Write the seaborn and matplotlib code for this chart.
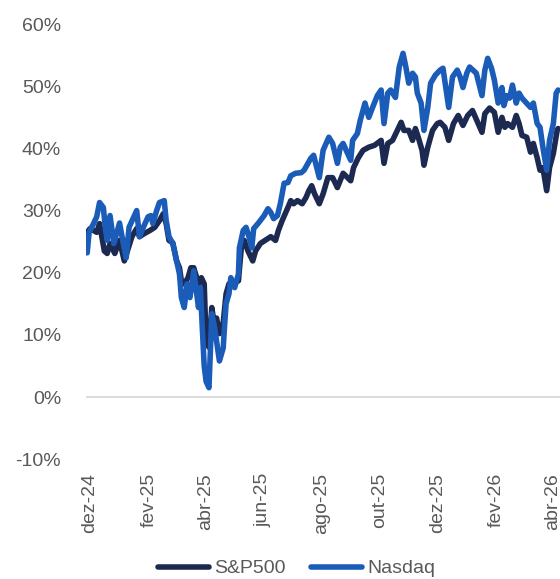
import pandas as pd
import numpy as np
import matplotlib
matplotlib.use("Agg")
import matplotlib.pyplot as plt
import matplotlib.ticker as mticker
import seaborn as sns

# Nasdaq cumulative return (%)
nq_dates = ["2024-11-28", "2024-11-30", "2024-12-05", "2024-12-08", "2024-12-11", "2024-12-15",
            "2024-12-17", "2024-12-19", "2024-12-22", "2024-12-26", "2025-01-01", "2025-01-05",
            "2025-01-08", "2025-01-11", "2025-01-19", "2025-01-22", "2025-01-26", "2025-01-31",
            "2025-02-03", "2025-02-05", "2025-02-09", "2025-02-12", "2025-02-17", "2025-02-19",
            "2025-02-22", "2025-02-26", "2025-03-02", "2025-03-05", "2025-03-07", "2025-03-10",
            "2025-03-13", "2025-03-16", "2025-03-20", "2025-03-25", "2025-03-27", "2025-03-29",
            "2025-03-31", "2025-04-02", "2025-04-05", "2025-04-08", "2025-04-11", "2025-04-13",
            "2025-04-16", "2025-04-20", "2025-04-21", "2025-04-23", "2025-04-26", "2025-04-28",
            "2025-05-02", "2025-05-06", "2025-05-07", "2025-05-11", "2025-05-14", "2025-05-17",
            "2025-05-20", "2025-05-22", "2025-05-27", "2025-06-02", "2025-06-06", "2025-06-09",
            "2025-06-12", "2025-06-16", "2025-06-19", "2025-06-23", "2025-06-27", "2025-06-30",
            "2025-07-05", "2025-07-11", "2025-07-14", "2025-07-18", "2025-07-21", "2025-07-24",
            "2025-07-28", "2025-07-30", "2025-08-03", "2025-08-09", "2025-08-13", "2025-08-18",
            "2025-08-21", "2025-08-24", "2025-09-01", "2025-09-03", "2025-09-08", "2025-09-11",
            "2025-09-16", "2025-09-20", "2025-09-24", "2025-09-29", "2025-10-03", "2025-10-06",
            "2025-10-10", "2025-10-13", "2025-10-18", "2025-10-22", "2025-10-26", "2025-10-29",
            "2025-11-01", "2025-11-05", "2025-11-08", "2025-11-10", "2025-11-14", "2025-11-17",
            "2025-11-21", "2025-11-24", "2025-11-29", "2025-12-04", "2025-12-07", "2025-12-13",
            "2025-12-17", "2025-12-22", "2025-12-25", "2025-12-28", "2026-01-01", "2026-01-04",
            "2026-01-11", "2026-01-17", "2026-01-20", "2026-01-23", "2026-01-27", "2026-01-30",
            "2026-02-03", "2026-02-07", "2026-02-09", "2026-02-12", "2026-02-15", "2026-02-18",
            "2026-02-22", "2026-02-25", "2026-02-28", "2026-03-09", "2026-03-12", "2026-03-16",
            "2026-03-19", "2026-03-22", "2026-03-26", "2026-03-29", "2026-04-02", "2026-04-05",
            "2026-04-07"]
nq_values = [23.2, 26.5, 28.0, 29.0, 31.3, 30.5,
             27.3, 25.2, 29.2, 24.7, 28.0, 24.7,
             22.4, 27.3, 30.0, 25.8, 27.3, 29.0,
             29.2, 27.9, 30.0, 31.3, 31.6, 28.4,
             25.8, 24.7, 21.9, 19.8, 16.0, 14.4,
             18.2, 16.0, 20.3, 14.4, 17.6, 11.1,
             5.0, 2.5, 1.5, 13.4, 11.1, 9.0,
             5.8, 7.9, 10.5, 15.0, 16.6, 19.2,
             17.6, 19.8, 24.0, 26.8, 27.3, 25.8,
             24.0, 27.1, 28.0, 29.2, 30.3, 29.7,
             28.7, 29.2, 31.1, 34.4, 34.5, 35.6,
             36.0, 36.1, 36.5, 37.6, 38.4, 38.9,
             36.5, 35.3, 39.7, 41.8, 40.8, 37.6,
             40.2, 40.8, 38.1, 41.3, 42.4, 44.5,
             47.3, 45.0, 46.6, 48.5, 49.4, 44.0,
             48.9, 49.4, 48.2, 53.1, 55.3, 53.1,
             50.5, 52.1, 51.5, 48.9, 47.3, 42.9,
             46.6, 50.5, 51.8, 52.6, 52.9, 46.6,
             51.5, 52.6, 51.5, 49.8, 52.1, 53.1,
             52.1, 48.5, 52.6, 54.5, 52.9, 51.0,
             47.3, 49.8, 46.9, 48.5, 48.1, 50.2,
             47.3, 48.9, 48.1, 46.6, 47.3, 44.0,
             43.4, 40.2, 36.5, 41.3, 44.0, 48.9,
             49.4]

# S&P500 cumulative return (%)
sp_dates = ["2024-11-28", "2024-12-01", "2024-12-08", "2024-12-11", "2024-12-16", "2024-12-19",
            "2024-12-22", "2024-12-27", "2025-01-01", "2025-01-06", "2025-01-14", "2025-01-19",
            "2025-01-22", "2025-01-27", "2025-02-02", "2025-02-07", "2025-02-12", "2025-02-16",
            "2025-02-19", "2025-02-22", "2025-02-26", "2025-03-02", "2025-03-05", "2025-03-07",
            "2025-03-10", "2025-03-14", "2025-03-17", "2025-03-20", "2025-03-25", "2025-03-28",
            "2025-03-31", "2025-04-02", "2025-04-05", "2025-04-08", "2025-04-10", "2025-04-13",
            "2025-04-16", "2025-04-20", "2025-04-23", "2025-04-26", "2025-04-30", "2025-05-06",
            "2025-05-09", "2025-05-12", "2025-05-16", "2025-05-21", "2025-05-24", "2025-05-29",
            "2025-06-03", "2025-06-09", "2025-06-14", "2025-06-17", "2025-06-21", "2025-06-27",
            "2025-06-30", "2025-07-03", "2025-07-07", "2025-07-12", "2025-07-16", "2025-07-19",
            "2025-07-22", "2025-07-25", "2025-07-30", "2025-08-03", "2025-08-08", "2025-08-13",
            "2025-08-18", "2025-08-24", "2025-09-01", "2025-09-04", "2025-09-09", "2025-09-14",
            "2025-09-20", "2025-09-26", "2025-10-03", "2025-10-06", "2025-10-10", "2025-10-15",
            "2025-10-20", "2025-10-24", "2025-10-27", "2025-11-01", "2025-11-05", "2025-11-08",
            "2025-11-11", "2025-11-15", "2025-11-17", "2025-11-21", "2025-11-26", "2025-12-01",
            "2025-12-04", "2025-12-09", "2025-12-13", "2025-12-18", "2025-12-23", "2025-12-28",
            "2026-01-02", "2026-01-07", "2026-01-17", "2026-01-20", "2026-01-25", "2026-01-30",
            "2026-02-03", "2026-02-07", "2026-02-10", "2026-02-13", "2026-02-18", "2026-02-22",
            "2026-02-25", "2026-02-28", "2026-03-05", "2026-03-09", "2026-03-12", "2026-03-16",
            "2026-03-19", "2026-03-22", "2026-03-26", "2026-03-29", "2026-04-02", "2026-04-06",
            "2026-04-07"]
sp_values = [26.5, 27.1, 26.5, 27.9, 23.5, 23.1,
             24.7, 23.1, 25.2, 21.9, 25.8, 27.1,
             25.8, 26.3, 26.8, 27.3, 28.4, 29.5,
             27.9, 25.2, 24.8, 21.9, 20.8, 18.7,
             18.2, 19.2, 20.8, 20.8, 18.2, 19.2,
             18.2, 9.0, 8.0, 14.4, 12.3, 12.7,
             10.2, 12.0, 16.6, 18.2, 18.2, 18.7,
             24.0, 25.2, 23.5, 21.9, 23.5, 24.7,
             25.2, 25.8, 25.2, 26.8, 28.4, 30.5,
             31.6, 31.1, 31.6, 31.1, 32.1, 33.2,
             34.0, 32.7, 31.1, 32.7, 35.3, 35.3,
             33.7, 36.0, 34.8, 36.9, 38.5, 39.7,
             40.2, 40.5, 41.3, 37.6, 40.8, 41.3,
             42.9, 44.2, 42.9, 42.9, 41.3, 43.2,
             41.8, 39.7, 37.3, 40.2, 42.9, 44.0,
             44.2, 43.4, 41.3, 44.0, 45.3, 43.7,
             45.3, 46.1, 42.6, 45.6, 46.5, 45.8,
             42.6, 45.0, 43.4, 44.0, 43.4, 45.3,
             44.0, 42.1, 41.8, 39.4, 40.8, 38.5,
             36.5, 36.9, 33.2, 36.9, 39.2, 42.9,
             43.2]

tick_dates = ["2024-12-01", "2025-02-01", "2025-04-01", "2025-06-01", "2025-08-01",
              "2025-10-01", "2025-12-01", "2026-02-01", "2026-04-01"]
tick_labels = ["dez-24", "fev-25", "abr-25", "jun-25", "ago-25",
               "out-25", "dez-25", "fev-26", "abr-26"]

sp = pd.DataFrame({"date": pd.to_datetime(sp_dates), "value": sp_values})
nq = pd.DataFrame({"date": pd.to_datetime(nq_dates), "value": nq_values})

sns.set_theme(style="white")
plt.rcParams["font.family"] = ["Liberation Sans", "DejaVu Sans"]

grey = "#595959"
navy = "#1C2951"
blue = "#1A5CB8"

fig = plt.figure(figsize=(5.6, 5.79), dpi=100)
ax = fig.add_axes([0.154, 0.207, 0.846, 0.7513])

ax.axhline(0, color="#D9D9D9", lw=1.3, zorder=1)
sns.lineplot(data=sp, x="date", y="value", ax=ax, color=navy, lw=4.0,
             estimator=None, sort=False, label="S&P500", zorder=2)
sns.lineplot(data=nq, x="date", y="value", ax=ax, color=blue, lw=4.0,
             estimator=None, sort=False, label="Nasdaq", zorder=3)

ax.set_xlim(pd.Timestamp("2024-11-27"), pd.Timestamp("2026-04-09"))
ax.set_ylim(-10, 60)
ax.set_yticks(np.arange(-10, 61, 10))
ax.yaxis.set_major_formatter(mticker.FuncFormatter(lambda v, p: f"{v:.0f}%"))
ax.set_xticks(pd.to_datetime(tick_dates))
ax.set_xticklabels(tick_labels, rotation=90)
ax.set_xlabel("")
ax.set_ylabel("")
ax.tick_params(axis="y", length=0, pad=18, labelsize=14, labelcolor=grey)
ax.tick_params(axis="x", length=0, pad=10, labelsize=14, labelcolor=grey)
for s in ax.spines.values():
    s.set_visible(False)

ax.get_legend().remove()
h, l = ax.get_legend_handles_labels()
fig.legend(h, l, loc="center", bbox_to_anchor=(0.53, 0.018), ncol=2, frameon=False,
           fontsize=14, labelcolor=grey, handlelength=2.6, handletextpad=0.3,
           columnspacing=1.3)

fig.savefig("out.png", dpi=100)
